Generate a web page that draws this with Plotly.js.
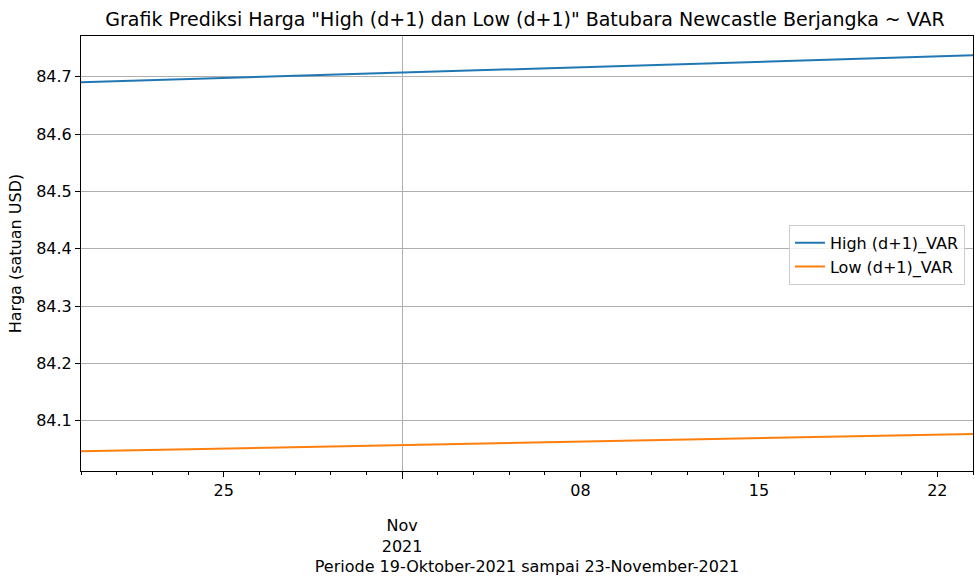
<!DOCTYPE html>
<html>
<head>
<meta charset="utf-8">
<script src="https://cdn.plot.ly/plotly-3.0.1.min.js"></script>
<style>html,body{margin:0;padding:0;background:#fff}#chart{width:975px;height:576px}</style>
</head>
<body>
<div id="chart"></div>
<script>
const dates = [
  '2021-10-19','2021-10-20','2021-10-21','2021-10-22',
  '2021-10-25','2021-10-26','2021-10-27','2021-10-28','2021-10-29',
  '2021-11-01','2021-11-02','2021-11-03','2021-11-04','2021-11-05',
  '2021-11-08','2021-11-09','2021-11-10','2021-11-11','2021-11-12',
  '2021-11-15','2021-11-16','2021-11-17','2021-11-18','2021-11-19',
  '2021-11-22','2021-11-23'
];
const highVAR = [
  84.6902, 84.6921, 84.6940, 84.6959, 84.6977, 84.6996, 84.7015, 84.7034, 84.7053,
  84.7071, 84.7090, 84.7109, 84.7128, 84.7147, 84.7166, 84.7184, 84.7203, 84.7222,
  84.7241, 84.7260, 84.7279, 84.7298, 84.7316, 84.7335, 84.7354, 84.7373
];
const lowVAR = [
  84.0466, 84.0478, 84.0490, 84.0502, 84.0514, 84.0526, 84.0539, 84.0551, 84.0563,
  84.0575, 84.0587, 84.0599, 84.0611, 84.0623, 84.0635, 84.0647, 84.0659, 84.0671,
  84.0683, 84.0695, 84.0708, 84.0720, 84.0732, 84.0744, 84.0756, 84.0768
];
const seriesNames = ['High (d+1)_VAR', 'Low (d+1)_VAR'];
const minorTickVals = ['2021-10-25','2021-11-08','2021-11-15','2021-11-22'];
const minorTickText = ['25','08','15','22'];
const majorTickVals = ['2021-11-01'];
const majorTickText = ['Nov<br>2021'];
const yTickVals = [84.1, 84.2, 84.3, 84.4, 84.5, 84.6, 84.7];

const FONT = 'DejaVu Sans, sans-serif';
const FS = 16;
const breaks = [{bounds: ['sat', 'mon']}];

const traces = [
  {x: dates, y: highVAR, name: seriesNames[0], type: 'scatter', mode: 'lines',
   line: {color: '#1f77b4', width: 2}},
  {x: dates, y: lowVAR, name: seriesNames[1], type: 'scatter', mode: 'lines',
   line: {color: '#ff7f0e', width: 2}},
  {x: [dates[0]], y: [null], xaxis: 'x2', showlegend: false, hoverinfo: 'skip', type: 'scatter'}
];

const layout = {
  width: 975, height: 576,
  paper_bgcolor: '#fff', plot_bgcolor: '#fff',
  margin: {l: 81, r: 2, t: 36, b: 105},
  font: {family: FONT, size: FS, color: '#000'},
  showlegend: true,
  title: {text: 'Grafik Prediksi Harga "High (d+1) dan Low (d+1)" Batubara Newcastle Berjangka ~ VAR',
          font: {family: FONT, size: 19, color: '#000'}, x: 0.5385, xanchor: 'center', y: 0.966, yanchor: 'middle'},
  xaxis: {
    type: 'date', range: ['2021-10-19', '2021-11-23'], rangebreaks: breaks,
    tickmode: 'array', tickvals: minorTickVals, ticktext: minorTickText,
    ticks: 'outside', ticklen: 5, tickwidth: 1, tickcolor: '#000',
    minor: {dtick: 86400000, ticks: 'outside', ticklen: 3, tickwidth: 1, tickcolor: '#000', showgrid: false},
    showgrid: false, zeroline: false,
    showline: true, mirror: true, linecolor: '#000', linewidth: 1,
    tickfont: {family: FONT, size: FS, color: '#000'},
    title: {text: 'Periode 19-Oktober-2021 sampai 23-November-2021', font: {family: FONT, size: FS, color: '#000'}, standoff: 66},
    automargin: false
  },
  xaxis2: {
    type: 'date', overlaying: 'x', matches: 'x', anchor: 'y', side: 'bottom',
    range: ['2021-10-19', '2021-11-23'], rangebreaks: breaks,
    tickmode: 'array', tickvals: majorTickVals, ticktext: majorTickText,
    ticks: 'outside', ticklen: 7, tickwidth: 1, tickcolor: '#000',
    ticklabelstandoff: 33,
    showgrid: true, gridcolor: '#b0b0b0', gridwidth: 1,
    zeroline: false, showline: false,
    tickfont: {family: FONT, size: FS, color: '#000'},
    automargin: false
  },
  yaxis: {
    range: [84.0122, 84.771], tickmode: 'array', tickvals: yTickVals,
    tickformat: '.1f',
    ticks: 'outside', ticklen: 5, tickwidth: 1, tickcolor: '#000',
    showgrid: true, gridcolor: '#b0b0b0', gridwidth: 1, zeroline: false,
    showline: true, mirror: true, linecolor: '#000', linewidth: 1,
    tickfont: {family: FONT, size: FS, color: '#000'},
    title: {text: 'Harga (satuan USD)', font: {family: FONT, size: FS, color: '#000'}, standoff: 10},
    automargin: false
  },
  legend: {
    x: 0.991, xanchor: 'right', y: 0.497, yanchor: 'middle',
    bgcolor: 'rgba(255,255,255,0.8)', bordercolor: '#cccccc', borderwidth: 1,
    font: {family: FONT, size: FS, color: '#000'},
    tracegroupgap: 0
  }
};

Plotly.newPlot('chart', traces, layout, {displayModeBar: false, staticPlot: true});
</script>
</body>
</html>
